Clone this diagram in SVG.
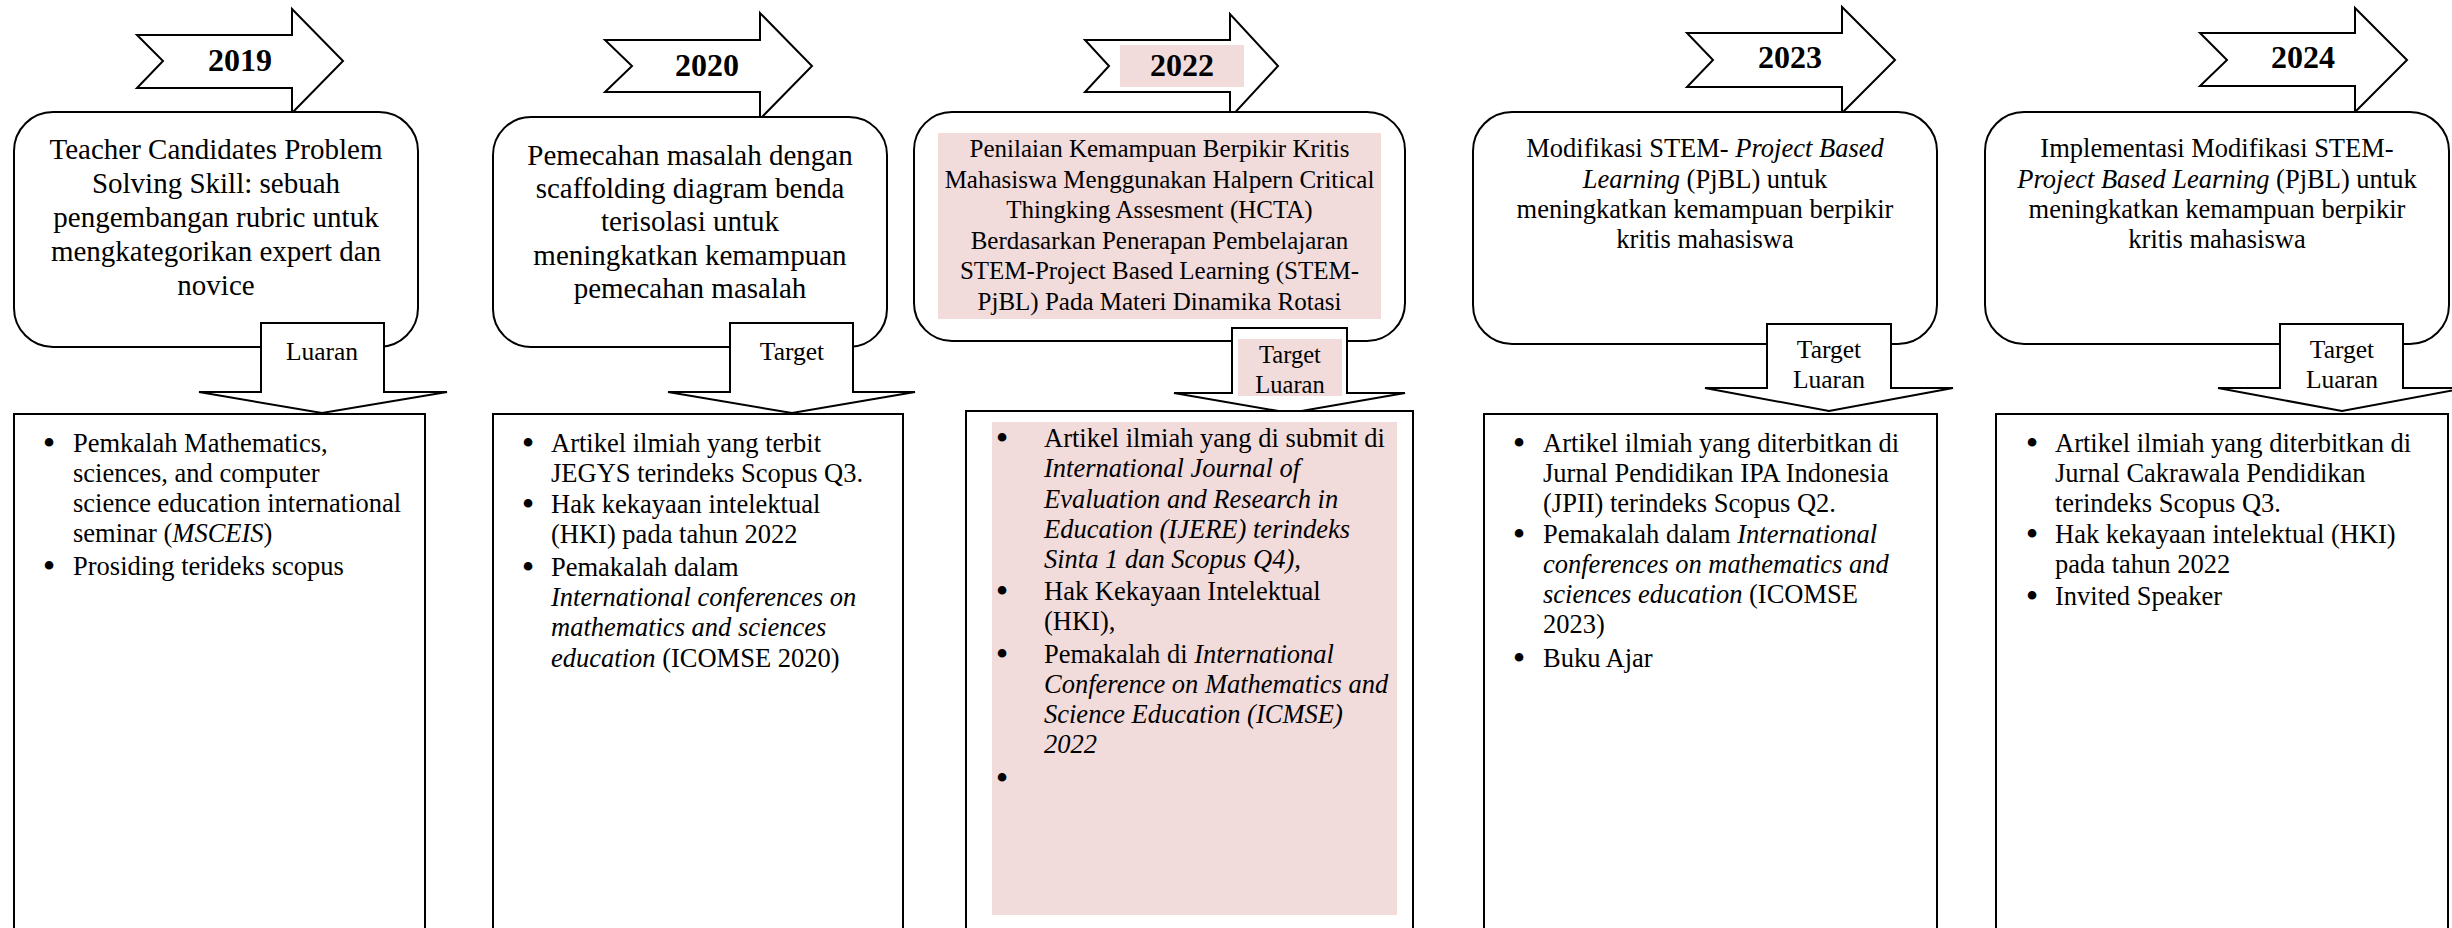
<svg xmlns="http://www.w3.org/2000/svg" width="2452" height="928" viewBox="0 0 2452 928">
  <style>
    .shape { fill: #ffffff; stroke: #000000; stroke-width: 2; stroke-linejoin: miter; }
    .hl { fill: #F2DBDB; stroke: none; }
    .year { font-family: "Liberation Serif", "Times New Roman", serif; font-weight: bold; font-size: 32px; text-anchor: middle; fill: #000; }
    .title { font-family: "Liberation Serif", "Times New Roman", serif; font-size: 29px; text-anchor: middle; fill: #000; }
    .title-s { font-family: "Liberation Serif", "Times New Roman", serif; font-size: 25px; text-anchor: middle; fill: #000; }
    .title-m { font-family: "Liberation Serif", "Times New Roman", serif; font-size: 26.5px; text-anchor: middle; fill: #000; }
    .lbl { font-family: "Liberation Serif", "Times New Roman", serif; font-size: 25.5px; text-anchor: middle; fill: #000; }
    .item { font-family: "Liberation Serif", "Times New Roman", serif; font-size: 26.5px; fill: #000; }
    .bul { font-family: "Liberation Serif", "Times New Roman", serif; font-size: 36px; text-anchor: middle; fill: #000; }
    .it { font-style: italic; }
  </style>

  <!-- year banners -->
  <g id="year-2019">
    <path class="shape" d="M137,35 H292 V9 L343,61 L292,113 V88 H137 L163,61 Z"/>
    <text class="year" x="240" y="71">2019</text>
  </g>
  <g id="year-2020">
    <path class="shape" d="M605,40 H760 V13 L812,66 L760,119 V92 H605 L632,66 Z"/>
    <text class="year" x="707" y="76">2020</text>
  </g>
  <g id="year-2022">
    <path class="shape" d="M1085,40 H1230 V14 L1278,66 L1230,118 V92 H1085 L1109,66 Z"/>
    <rect class="hl" x="1120" y="45" width="124" height="42"/>
    <text class="year" x="1182" y="76">2022</text>
  </g>
  <g id="year-2023">
    <path class="shape" d="M1687,33 H1842 V7 L1895,60 L1842,113 V87 H1687 L1713,60 Z"/>
    <text class="year" x="1790" y="68">2023</text>
  </g>
  <g id="year-2024">
    <path class="shape" d="M2200,33 H2355 V8 L2407,60 L2355,112 V86 H2200 L2227,60 Z"/>
    <text class="year" x="2303" y="68">2024</text>
  </g>

  <!-- research topics -->
  <g id="topic-2019">
    <rect class="shape" x="14" y="112" width="404" height="235" rx="39" ry="39"/>
    <text class="title" x="216" y="159">Teacher Candidates Problem</text>
    <text class="title" x="216" y="193">Solving Skill: sebuah</text>
    <text class="title" x="216" y="227">pengembangan rubric untuk</text>
    <text class="title" x="216" y="261">mengkategorikan expert dan</text>
    <text class="title" x="216" y="295">novice</text>
  </g>
  <g id="topic-2020">
    <rect class="shape" x="493" y="117" width="394" height="230" rx="38" ry="38"/>
    <text class="title" x="690" y="165">Pemecahan masalah dengan</text>
    <text class="title" x="690" y="198">scaffolding diagram benda</text>
    <text class="title" x="690" y="231">terisolasi untuk</text>
    <text class="title" x="690" y="265">meningkatkan kemampuan</text>
    <text class="title" x="690" y="298">pemecahan masalah</text>
  </g>
  <g id="topic-2022">
    <rect class="shape" x="914" y="112" width="491" height="229" rx="38" ry="38"/>
    <rect class="hl" x="938" y="133" width="443" height="186"/>
    <text class="title-s" x="1159.5" y="157">Penilaian Kemampuan Berpikir Kritis</text>
    <text class="title-s" x="1159.5" y="187.5">Mahasiswa Menggunakan Halpern Critical</text>
    <text class="title-s" x="1159.5" y="218">Thingking Assesment (HCTA)</text>
    <text class="title-s" x="1159.5" y="249">Berdasarkan Penerapan Pembelajaran</text>
    <text class="title-s" x="1159.5" y="279">STEM-Project Based Learning (STEM-</text>
    <text class="title-s" x="1159.5" y="310">PjBL) Pada Materi Dinamika Rotasi</text>
  </g>
  <g id="topic-2023">
    <rect class="shape" x="1473" y="112" width="464" height="232" rx="39" ry="39"/>
    <text class="title-m" x="1705" y="157">Modifikasi STEM- <tspan class="it">Project Based</tspan></text>
    <text class="title-m" x="1705" y="188"><tspan class="it">Learning</tspan> (PjBL) untuk</text>
    <text class="title-m" x="1705" y="218">meningkatkan kemampuan berpikir</text>
    <text class="title-m" x="1705" y="248">kritis mahasiswa</text>
  </g>
  <g id="topic-2024">
    <rect class="shape" x="1985" y="112" width="464" height="232" rx="39" ry="39"/>
    <text class="title-m" x="2217" y="157">Implementasi Modifikasi STEM-</text>
    <text class="title-m" x="2217" y="188"><tspan class="it">Project Based Learning</tspan> (PjBL) untuk</text>
    <text class="title-m" x="2217" y="218">meningkatkan kemampuan berpikir</text>
    <text class="title-m" x="2217" y="248">kritis mahasiswa</text>
  </g>

  <!-- labelled down arrows from topic to outputs -->
  <g id="connectors">
    <g id="arrow-2019">
      <path class="shape" d="M261,323 H384 V392 H447 L322,413 L199,392 H261 Z"/>
      <text class="lbl" x="322" y="360">Luaran</text>
    </g>
    <g id="arrow-2020">
      <path class="shape" d="M730,323 H853 V392 H915 L792,413 L668,392 H730 Z"/>
      <text class="lbl" x="792" y="360">Target</text>
    </g>
    <g id="arrow-2022">
      <path class="shape" d="M1232,328 H1347 V393 H1405 L1290,413 L1174,393 H1232 Z"/>
      <rect class="hl" x="1238" y="339" width="104" height="57"/>
      <text class="lbl" x="1290" y="363" style="font-size:24.5px">Target</text>
      <text class="lbl" x="1290" y="393" style="font-size:24.5px">Luaran</text>
    </g>
    <g id="arrow-2023">
      <path class="shape" d="M1767,324 H1891 V388 H1953 L1829,411 L1705,388 H1767 Z"/>
      <text class="lbl" x="1829" y="358">Target</text>
      <text class="lbl" x="1829" y="388">Luaran</text>
    </g>
    <g id="arrow-2024">
      <path class="shape" d="M2280,324 H2403 V388 H2466 L2342,411 L2218,388 H2280 Z"/>
      <text class="lbl" x="2342" y="358">Target</text>
      <text class="lbl" x="2342" y="388">Luaran</text>
    </g>
  </g>

  <!-- outputs -->
  <g id="output-2019">
    <rect class="shape" x="14" y="414" width="411" height="530"/>
    <text class="bul" x="49" y="455">•</text>
    <text class="item" x="73" y="452">Pemkalah Mathematics,</text>
    <text class="item" x="73" y="482">sciences, and computer</text>
    <text class="item" x="73" y="512">science education international</text>
    <text class="item" x="73" y="542">seminar (<tspan class="it">MSCEIS</tspan>)</text>
    <text class="bul" x="49" y="578">•</text>
    <text class="item" x="73" y="575">Prosiding terideks scopus</text>
  </g>
  <g id="output-2020">
    <rect class="shape" x="493" y="414" width="410" height="530"/>
    <text class="bul" x="528" y="455">•</text>
    <text class="item" x="551" y="452">Artikel ilmiah yang terbit</text>
    <text class="item" x="551" y="482">JEGYS terindeks Scopus Q3.</text>
    <text class="bul" x="528" y="516">•</text>
    <text class="item" x="551" y="513">Hak kekayaan intelektual</text>
    <text class="item" x="551" y="543">(HKI) pada tahun 2022</text>
    <text class="bul" x="528" y="579">•</text>
    <text class="item" x="551" y="576">Pemakalah dalam</text>
    <text class="item it" x="551" y="606">International conferences on</text>
    <text class="item it" x="551" y="636">mathematics and sciences</text>
    <text class="item" x="551" y="667"><tspan class="it">education</tspan> (ICOMSE 2020)</text>
  </g>
  <g id="output-2022">
    <rect class="shape" x="966" y="411" width="447" height="533"/>
    <rect class="hl" x="992" y="422" width="405" height="493"/>
    <text class="bul" x="1002" y="450">•</text>
    <text class="item" x="1044" y="447">Artikel ilmiah yang di submit di</text>
    <text class="item it" x="1044" y="477">International Journal of</text>
    <text class="item it" x="1044" y="508">Evaluation and Research in</text>
    <text class="item it" x="1044" y="538">Education (IJERE) terindeks</text>
    <text class="item it" x="1044" y="568">Sinta 1 dan Scopus Q4),</text>
    <text class="bul" x="1002" y="603">•</text>
    <text class="item" x="1044" y="600">Hak Kekayaan Intelektual</text>
    <text class="item" x="1044" y="630">(HKI),</text>
    <text class="bul" x="1002" y="666">•</text>
    <text class="item" x="1044" y="663">Pemakalah di <tspan class="it">International</tspan></text>
    <text class="item it" x="1044" y="693">Conference on Mathematics and</text>
    <text class="item it" x="1044" y="723">Science Education (ICMSE)</text>
    <text class="item it" x="1044" y="753">2022</text>
    <text class="bul" x="1002" y="790">•</text>
  </g>
  <g id="output-2023">
    <rect class="shape" x="1484" y="414" width="453" height="530"/>
    <text class="bul" x="1519" y="455">•</text>
    <text class="item" x="1543" y="452">Artikel ilmiah yang diterbitkan di</text>
    <text class="item" x="1543" y="482">Jurnal Pendidikan IPA Indonesia</text>
    <text class="item" x="1543" y="512">(JPII) terindeks Scopus Q2.</text>
    <text class="bul" x="1519" y="546">•</text>
    <text class="item" x="1543" y="543">Pemakalah dalam <tspan class="it">International</tspan></text>
    <text class="item it" x="1543" y="573">conferences on mathematics and</text>
    <text class="item" x="1543" y="603"><tspan class="it">sciences education</tspan> (ICOMSE</text>
    <text class="item" x="1543" y="633">2023)</text>
    <text class="bul" x="1519" y="670">•</text>
    <text class="item" x="1543" y="667">Buku Ajar</text>
  </g>
  <g id="output-2024">
    <rect class="shape" x="1996" y="414" width="452" height="530"/>
    <text class="bul" x="2032" y="455">•</text>
    <text class="item" x="2055" y="452">Artikel ilmiah yang diterbitkan di</text>
    <text class="item" x="2055" y="482">Jurnal Cakrawala Pendidikan</text>
    <text class="item" x="2055" y="512">terindeks Scopus Q3.</text>
    <text class="bul" x="2032" y="546">•</text>
    <text class="item" x="2055" y="543">Hak kekayaan intelektual (HKI)</text>
    <text class="item" x="2055" y="573">pada tahun 2022</text>
    <text class="bul" x="2032" y="608">•</text>
    <text class="item" x="2055" y="605">Invited Speaker</text>
  </g>
</svg>
